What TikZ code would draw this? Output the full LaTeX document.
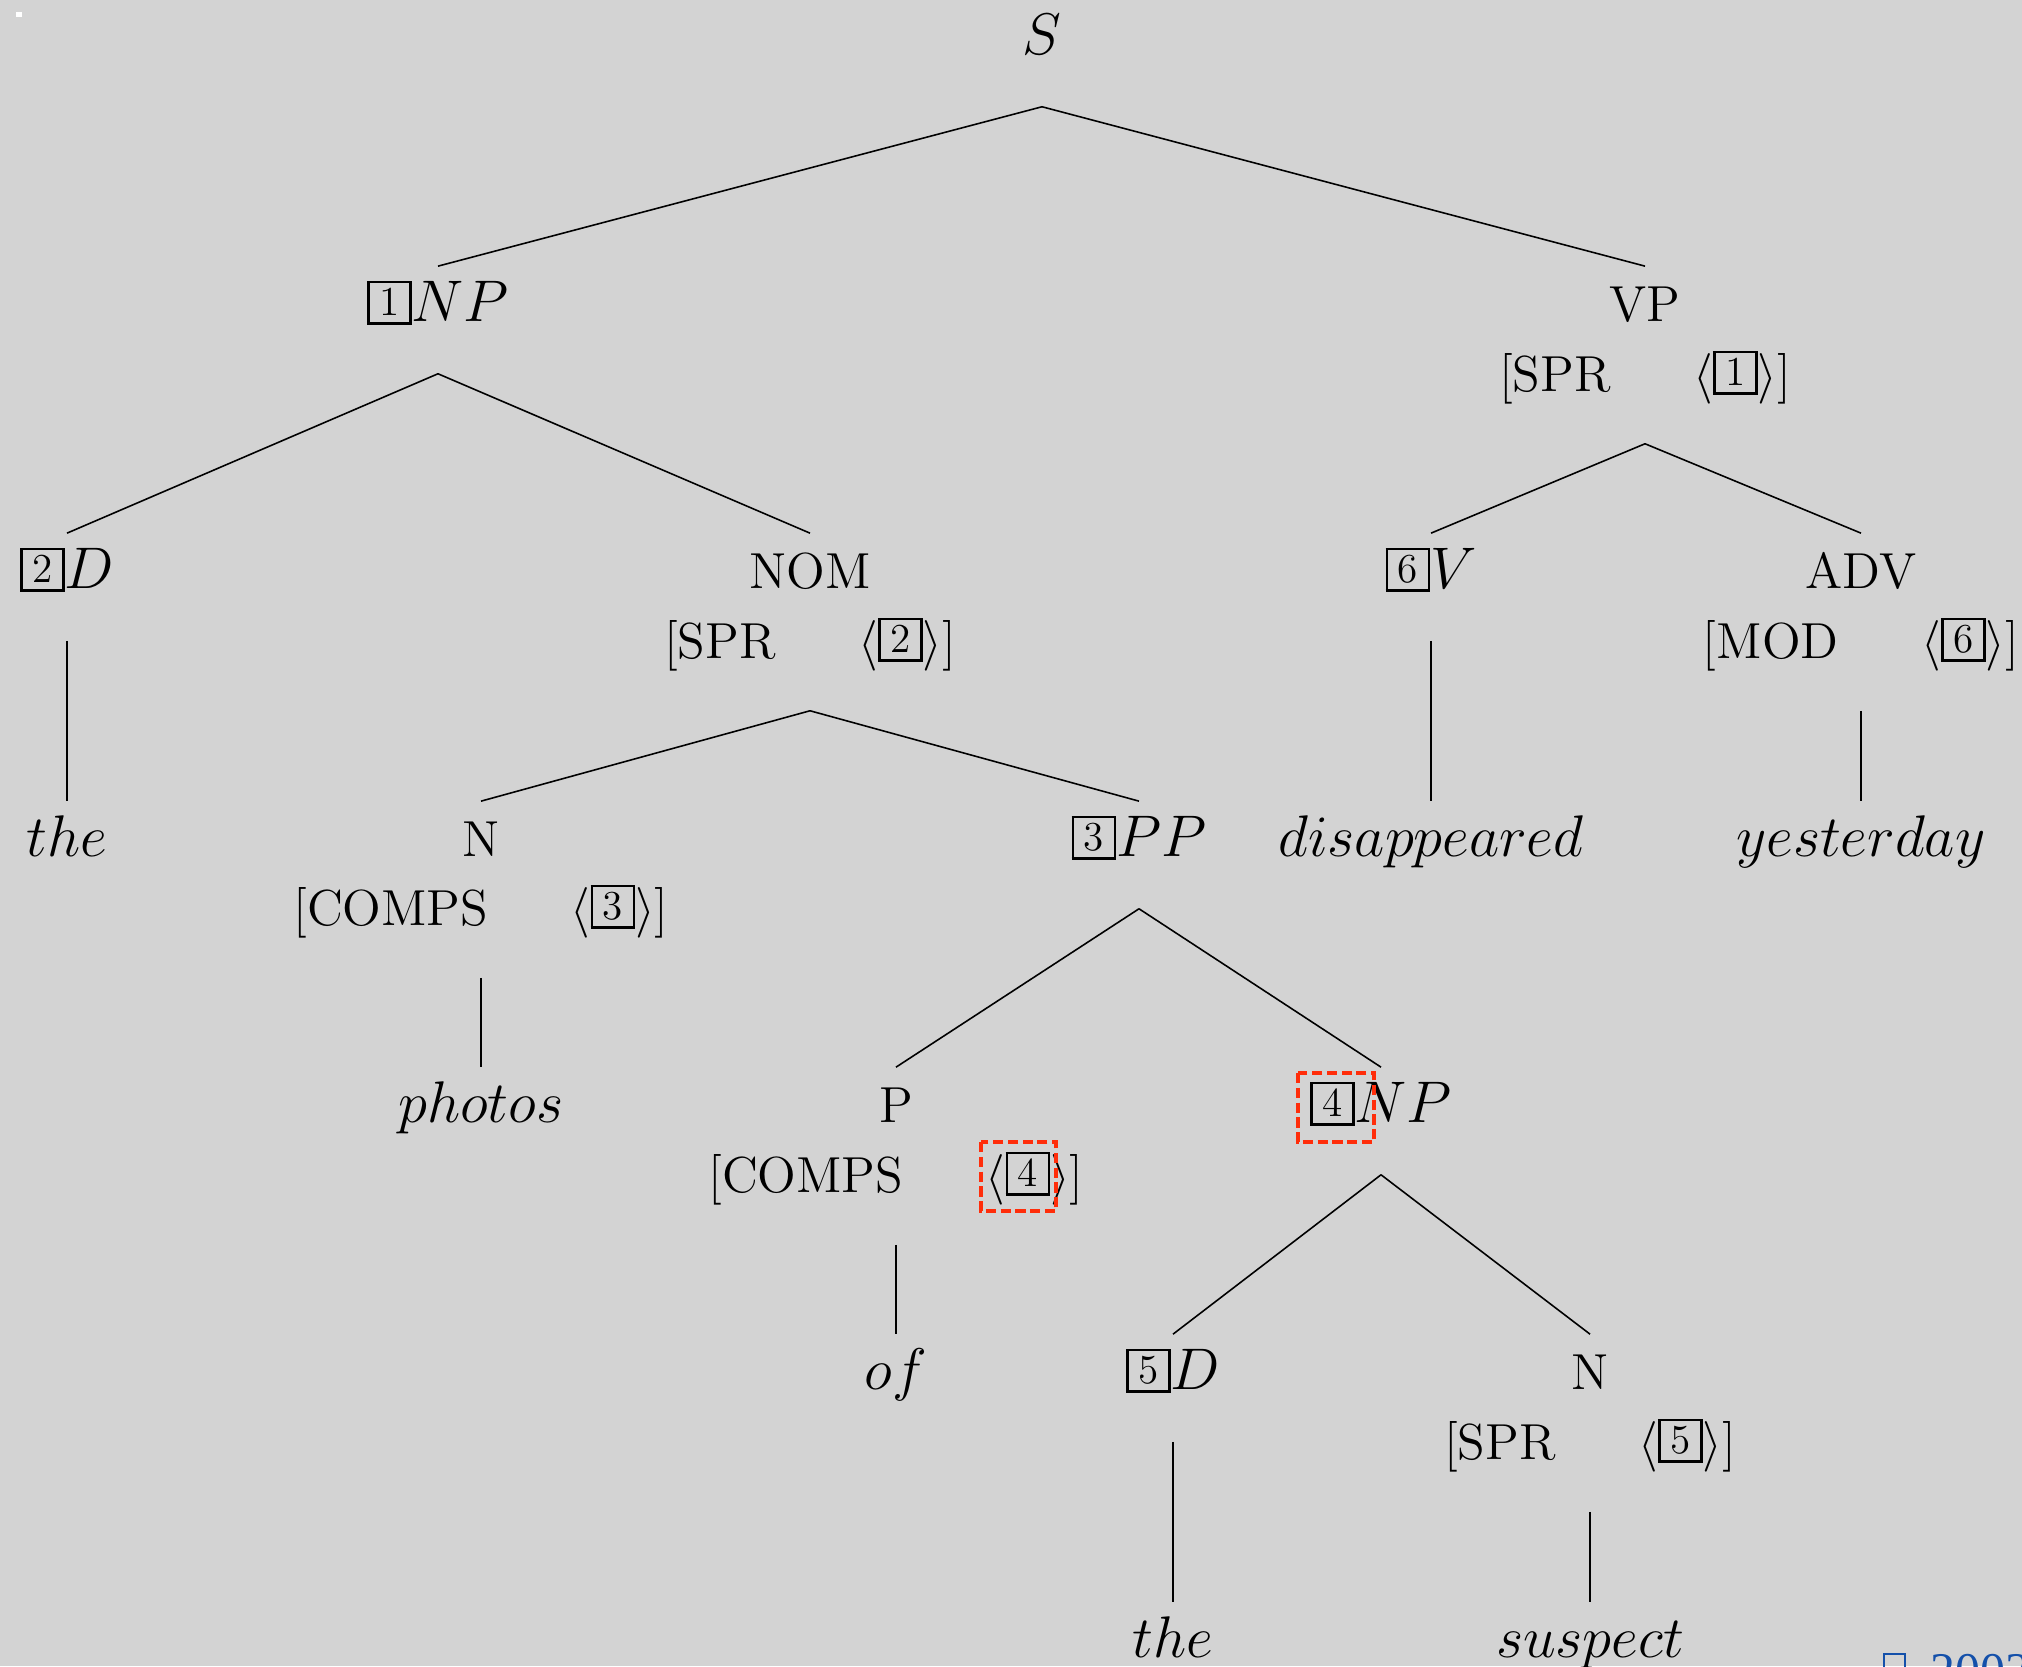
\documentclass[tikz,border=0pt]{standalone}
\usepackage{fix-cm}
\usepackage{fontspec}
\newfontfamily\yearfont{Liberation Serif}

\definecolor{bggray}{RGB}{211,211,211}
\definecolor{markred}{RGB}{255,45,10}
\definecolor{yearblue}{RGB}{20,80,170}

% boxed tag and feature line
\newcommand{\ibox}[1]{\raisebox{-0.4pt}{\setlength{\fboxsep}{0pt}\setlength{\fboxrule}{0.75pt}\fbox{\makebox[11.2pt]{\rule{0pt}{11.1pt}\raisebox{2.1pt}{\fontsize{11.7}{12}\selectfont #1}}}}}
\newcommand{\feat}[2]{[#1\hspace{23.5pt}$\langle$\ibox{#2}$\rangle$]}

\begin{document}
\begin{tikzpicture}[x=0.01cm,y=-0.01cm,
                    lbl/.style = {inner sep=0pt,text height=15.4pt,text depth=14.8pt,anchor=base,font=\Large},
                    mlbl/.style = {lbl,font=\fontsize{16.7}{20}\selectfont},
                    branch/.style = {line width=0.45pt},
                    hilite/.style = {draw=markred,line width=1.3pt,dash pattern=on 2.9pt off 1.3pt}]
                    \fill[bggray] (0,0) rectangle (2022,1666);
                    \useasboundingbox (0,0) rectangle (2022,1666);
                    \fill[white] (16,12) rectangle (22,17);

                    \node[mlbl] (s) at (1042,54) {$S$};

                    \node[mlbl] (np1) at (438,321) {\ibox{1}$NP$};
                    \node[lbl] (vp) at (1645,321) {VP};
                    \node[lbl] (vpf) at (1645,391) {\feat{SPR}{1}};

                    \node[mlbl] (d2) at (67,588) {\ibox{2}$D$};
                    \node[lbl] (nom) at (810,588) {NOM};
                    \node[lbl] (nomf) at (810,658) {\feat{SPR}{2}};
                    \node[mlbl] (v6) at (1431,588) {\ibox{6}$V$};
                    \node[lbl] (adv) at (1861,588) {ADV};
                    \node[lbl] (advf) at (1861,658) {\feat{MOD}{6}};

                    \node[mlbl] (the1) at (67,856) {$the$};
                    \node[lbl] (n3) at (481,856) {N};
                    \node[lbl] (n3f) at (481,925) {\feat{COMPS}{3}};
                    \node[mlbl] (pp) at (1139,856) {\ibox{3}$PP$};
                    \node[mlbl] (disap) at (1431,856) {$disappeared$};
                    \node[mlbl] (yest) at (1861,856) {$yesterday$};

                    \node[mlbl] (photos) at (481,1122) {$photos$};
                    \node[lbl] (p4) at (896,1122) {P};
                    \node[lbl] (p4f) at (896,1192) {\feat{COMPS}{4}};
                    \node[mlbl] (np4) at (1381,1122) {\ibox{4}$NP$};

                    \node[mlbl] (of) at (896,1389) {$of$};
                    \node[mlbl] (d5) at (1173,1389) {\ibox{5}$D$};
                    \node[lbl] (n5) at (1590,1389) {N};
                    \node[lbl] (n5f) at (1590,1459) {\feat{SPR}{5}};

                    \node[mlbl] (the2) at (1173,1657) {$the$};
                    \node[mlbl] (susp) at (1590,1657) {$suspect$};

                    \draw[branch] (s.south) -- (np1.north);
                    \draw[branch] (s.south) -- (vp.north);
                    \draw[branch] (np1.south) -- (d2.north);
                    \draw[branch] (np1.south) -- (nom.north);
                    \draw[branch] (d2.south) -- (the1.north);
                    \draw[branch] (nomf.south) -- (n3.north);
                    \draw[branch] (nomf.south) -- (pp.north);
                    \draw[branch] (n3f.south) -- (photos.north);
                    \draw[branch] (pp.south) -- (p4.north);
                    \draw[branch] (pp.south) -- (np4.north);
                    \draw[branch] (p4f.south) -- (of.north);
                    \draw[branch] (np4.south) -- (d5.north);
                    \draw[branch] (np4.south) -- (n5.north);
                    \draw[branch] (d5.south) -- (the2.north);
                    \draw[branch] (n5f.south) -- (susp.north);
                    \draw[branch] (vpf.south) -- (v6.north);
                    \draw[branch] (vpf.south) -- (adv.north);
                    \draw[branch] (v6.south) -- (disap.north);
                    \draw[branch] (advf.south) -- (yest.north);

                    \draw[hilite] (1298,1073) rectangle (1374,1142);
                    \draw[hilite] (981,1142) rectangle (1056,1211);

                    \node[anchor=base west,inner sep=0pt,text=yearblue,font=\yearfont\fontsize{14.2}{16}\selectfont] (year) at (1930,1687) {2003};
                    \draw[yearblue,line width=0.75pt] (1884,1654) rectangle (1905,1690);
                \end{tikzpicture}
\end{document}
